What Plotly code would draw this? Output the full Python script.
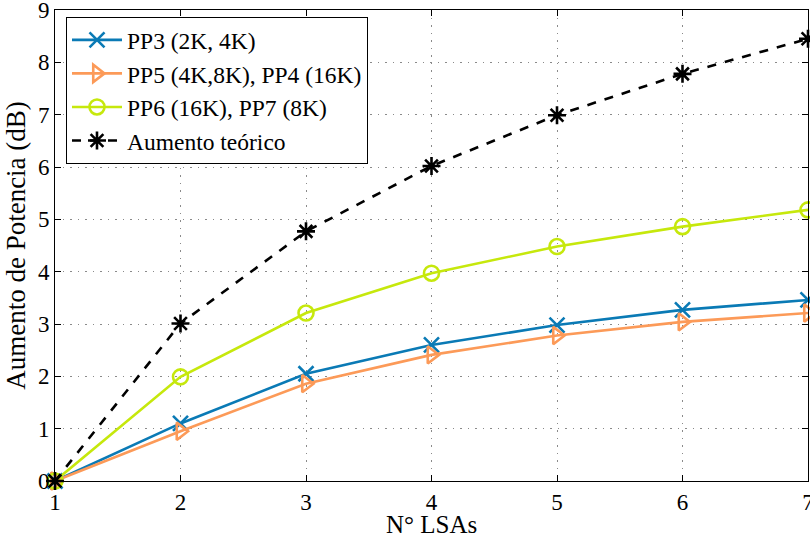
import plotly.graph_objects as go

x_lsas = [1, 2, 3, 4, 5, 6, 7]
pp3 = [0, 1.10, 2.05, 2.60, 2.98, 3.27, 3.46]
pp5_pp4 = [0, 0.95, 1.86, 2.41, 2.78, 3.04, 3.21]
pp6_pp7 = [0, 1.99, 3.21, 3.97, 4.48, 4.86, 5.18]
teorico = [0, 3.01, 4.77, 6.02, 6.99, 7.78, 8.45]

names = ["PP3 (2K, 4K)", "PP5 (4K,8K), PP4 (16K)", "PP6 (16K), PP7 (8K)", "Aumento teórico"]
colors = ["#0a7ab5", "#fc9a58", "#c6e80c", "#000000"]
symbols = ["x-thin-open", "triangle-right-open", "circle-open", "asterisk-open"]
dashes = ["solid", "solid", "solid", "dash"]
series = [pp3, pp5_pp4, pp6_pp7, teorico]

fig = go.Figure()
for name, ys, c, s, d in zip(names, series, colors, symbols, dashes):
    fig.add_trace(go.Scatter(
        x=x_lsas, y=ys, name=name, mode="lines+markers",
        line=dict(color=c, width=2.6, dash=d),
        marker=dict(symbol=s, size=15, color=c, line=dict(color=c, width=2.6)),
        cliponaxis=False,
    ))

font_family = "Liberation Serif"
grid_style = dict(showgrid=True, gridcolor="#8a8a8a", griddash="1.5px,6px", gridwidth=1)
plot_h = 540 - 10 - 59
fig.update_layout(
    width=810, height=540,
    margin=dict(l=55, r=2, t=10, b=59),
    paper_bgcolor="white", plot_bgcolor="white",
    font=dict(family=font_family, size=23, color="black"),
    showlegend=True,
    legend=dict(
        x=0.0146, y=0.985, xanchor="left", yanchor="top",
        bgcolor="white", bordercolor="black", borderwidth=1,
        font=dict(size=23.5, family=font_family),
        tracegroupgap=0, itemwidth=50,
    ),
    xaxis=dict(
        range=[1, 7], tickvals=x_lsas, ticktext=[str(v) for v in x_lsas],
        showline=True, linecolor="black", linewidth=1, mirror="ticks",
        ticks="inside", ticklen=6, tickcolor="black",
        zeroline=False, automargin=False, ticklabeloverflow="allow",
        tickfont=dict(size=23),
        **grid_style,
    ),
    yaxis=dict(
        range=[0, 9], tickvals=list(range(10)),
        showline=True, linecolor="black", linewidth=1, mirror="ticks",
        ticks="inside", ticklen=6, tickcolor="black",
        zeroline=False, automargin=False, ticklabeloverflow="allow",
        title=dict(text="Aumento de Potencia (dB)", font=dict(size=27), standoff=4),
        tickfont=dict(size=23),
        **grid_style,
    ),
    annotations=[dict(
        text="N° LSAs", xref="paper", yref="paper", x=0.5, y=-59 / plot_h,
        xanchor="center", yanchor="bottom", yshift=0, showarrow=False,
        font=dict(size=25, family=font_family, color="black"),
    )],
)

fig.write_html(
    "out.html",
    config={"displayModeBar": False},
    post_script="document.body.style.margin='0';document.body.style.padding='0';",
)
